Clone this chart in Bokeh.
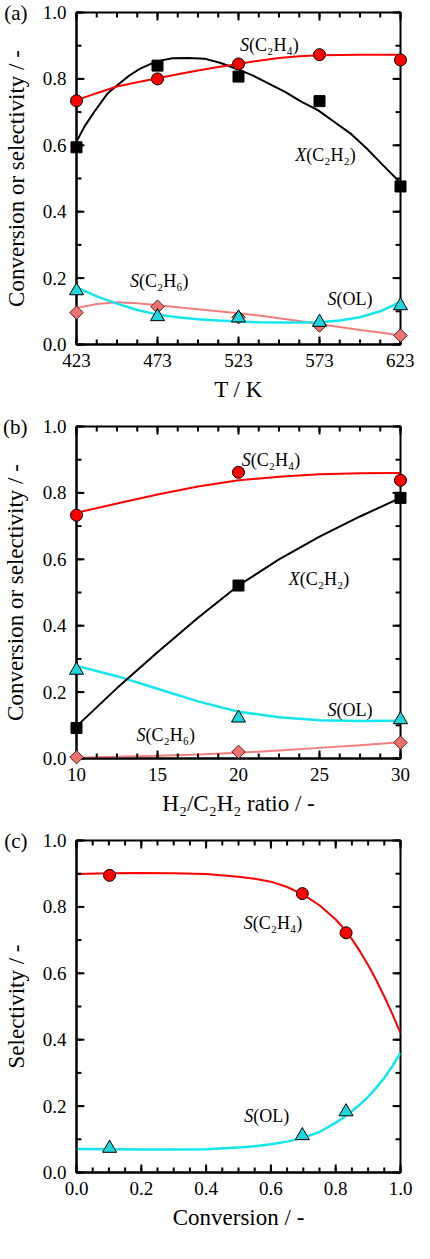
from bokeh.plotting import figure
from bokeh.models import (Range1d, LinearAxis, FixedTicker, Label,
                          CustomJSTickFormatter, PrintfTickFormatter)
from bokeh.layouts import column
from bokeh.embed import file_html
from bokeh.resources import INLINE
import math

# ---------------- data: panel (a) temperature ----------------
temp_K = [423, 473, 523, 573, 623]
a_X_C2H2 = [0.594, 0.840, 0.807, 0.733, 0.476]
a_S_C2H4 = [0.734, 0.800, 0.845, 0.873, 0.857]
a_S_OL = [0.162, 0.084, 0.080, 0.067, 0.117]
a_S_C2H6 = [0.096, 0.114, 0.082, 0.057, 0.027]

a_fitX_T = [423, 428, 434, 442, 448, 455, 462, 472, 482, 492, 502, 512, 522, 532, 542,
            552, 562, 572, 582, 592, 602, 612, 623]
a_fitX = [0.611, 0.657, 0.701, 0.755, 0.780, 0.808, 0.830, 0.852, 0.862, 0.863, 0.861, 0.848,
          0.830, 0.810, 0.785, 0.760, 0.731, 0.706, 0.671, 0.636, 0.591, 0.541, 0.487]
a_fit_T = [423, 435.5, 448, 460.5, 473, 485.5, 498, 510.5, 523, 535.5, 548, 560.5, 573,
           585.5, 598, 610.5, 623]
a_fit_C2H4 = [0.736, 0.757, 0.777, 0.790, 0.802, 0.814, 0.825, 0.836, 0.845, 0.855, 0.863,
              0.868, 0.871, 0.872, 0.873, 0.873, 0.873]
a_fit_OL = [0.172, 0.145, 0.123, 0.104, 0.090, 0.082, 0.076, 0.072, 0.069, 0.067, 0.066,
            0.066, 0.067, 0.072, 0.082, 0.100, 0.128]
a_fit_C2H6 = [0.110, 0.122, 0.127, 0.124, 0.118, 0.112, 0.106, 0.100, 0.094, 0.087, 0.079,
              0.071, 0.062, 0.053, 0.044, 0.036, 0.027]

# ---------------- data: panel (b) H2/C2H2 ratio ----------------
ratio = [10, 20, 30]
b_X_C2H2 = [0.092, 0.521, 0.785]
b_S_C2H4 = [0.733, 0.862, 0.838]
b_S_OL = [0.266, 0.122, 0.117]
b_S_C2H6 = [0.004, 0.020, 0.048]

b_fit_r = [10, 12.5, 15, 17.5, 20, 22.5, 25, 27.5, 30]
b_fit_X = [0.097, 0.212, 0.320, 0.424, 0.521, 0.600, 0.668, 0.729, 0.785]
b_fit_C2H4 = [0.740, 0.768, 0.795, 0.819, 0.838, 0.849, 0.856, 0.859, 0.860]
b_fit_OL = [0.279, 0.248, 0.210, 0.172, 0.141, 0.124, 0.115, 0.113, 0.114]
b_fit_C2H6 = [0.002, 0.005, 0.008, 0.012, 0.017, 0.024, 0.032, 0.040, 0.049]

# ---------------- data: panel (c) conversion ----------------
conv = [0.102, 0.697, 0.832]
c_S_C2H4 = [0.895, 0.840, 0.722]
c_S_OL = [0.073, 0.111, 0.183]

c_fit_x = [0.0, 0.1, 0.2, 0.3, 0.4, 0.5, 0.55, 0.6, 0.65, 0.7, 0.75, 0.8, 0.825, 0.85,
           0.875, 0.9, 0.925, 0.95, 0.975, 1.0]
c_fit_C2H4 = [0.899, 0.901, 0.902, 0.901, 0.899, 0.891, 0.885, 0.876, 0.860, 0.837, 0.805,
              0.762, 0.735, 0.703, 0.666, 0.625, 0.580, 0.530, 0.477, 0.420]
c_fit_OL = [0.071, 0.070, 0.069, 0.069, 0.070, 0.075, 0.079, 0.085, 0.093, 0.105, 0.122,
            0.150, 0.166, 0.185, 0.205, 0.228, 0.255, 0.285, 0.320, 0.360]

# ---------------- tick values ----------------
a_xticks = [423, 473, 523, 573, 623]
a_xminor = [423 + 12.5 * i for i in range(17)]
b_xticks = [10, 15, 20, 25, 30]
b_xminor = [10 + 1.25 * i for i in range(17)]
c_xticks = [0.0, 0.2, 0.4, 0.6, 0.8, 1.0]
c_xminor = [0.05 * i for i in range(21)]
y_ticks = [0.0, 0.2, 0.4, 0.6, 0.8, 1.0]
y_minor = [0.1 * i for i in range(11)]

# ---------------- styles ----------------
FONT = "Liberation Serif"
RED = "#FF0000"
CYAN_LINE = "#14E6EC"
CYAN_FILL = "#1CD6DC"
PINK_LINE = "#F47E7E"
PINK_FILL = "#EE7272"
TICK_FS = "19px"
TITLE_FS = "23px"
ANN_FS = "18px"
FRAME_W, FRAME_H = 328, 332
MAJ_PX, MIN_PX = 8, 5


def style_axis(ax, label_fs=TICK_FS):
    ax.major_tick_in = 0
    ax.major_tick_out = 0
    ax.minor_tick_in = 0
    ax.minor_tick_out = 0
    ax.axis_line_color = "black"
    ax.axis_line_width = 2
    ax.major_label_text_font = FONT
    ax.major_label_text_font_size = label_fs
    ax.major_label_text_color = "black"
    ax.axis_label_text_font = FONT
    ax.axis_label_text_font_size = TITLE_FS
    ax.axis_label_text_font_style = "normal"
    ax.axis_label_text_color = "black"


def inward_ticks(p, xr, yr, xmaj, xmin_, ymaj, ymin_):
    dx = (xr[1] - xr[0]) / FRAME_W
    dy = (yr[1] - yr[0]) / FRAME_H
    for ticks, L in ((xmaj, MAJ_PX), (xmin_, MIN_PX)):
        n = len(ticks)
        p.segment(ticks, [yr[0]] * n, ticks, [yr[0] + L * dy] * n,
                  line_color="black", line_width=2, level="overlay")
        p.segment(ticks, [yr[1]] * n, ticks, [yr[1] - L * dy] * n,
                  line_color="black", line_width=2, level="overlay")
    for ticks, L in ((ymaj, MAJ_PX), (ymin_, MIN_PX)):
        n = len(ticks)
        p.segment([xr[0]] * n, ticks, [xr[0] + L * dx] * n, ticks,
                  line_color="black", line_width=2, level="overlay")
        p.segment([xr[1]] * n, ticks, [xr[1] - L * dx] * n, ticks,
                  line_color="black", line_width=2, level="overlay")


def make_fig(height, xr, xmaj, xmin_, xfmt, xlabel, ylabel, tag, bottom):
    yr = (0, 1)
    p = figure(width=414, height=height, x_range=Range1d(*xr), y_range=Range1d(*yr),
               output_backend="svg", toolbar_location=None,
               min_border_left=72, min_border_right=14, min_border_top=12,
               min_border_bottom=bottom, x_axis_type=None, y_axis_type=None)
    p.grid.visible = False
    p.outline_line_color = "black"
    p.outline_line_width = 2
    xa = LinearAxis(ticker=FixedTicker(ticks=xmaj, minor_ticks=xmin_), formatter=xfmt,
                    axis_label=xlabel)
    style_axis(xa)
    xa.major_label_standoff = 9
    xa.axis_label_standoff = 7
    p.add_layout(xa, "below")
    ya = LinearAxis(ticker=FixedTicker(ticks=y_ticks, minor_ticks=y_minor),
                    formatter=PrintfTickFormatter(format="%.1f"))
    style_axis(ya)
    ya.major_label_standoff = 10
    p.add_layout(ya, "left")
    yb = LinearAxis(ticker=FixedTicker(ticks=[yr[1]], minor_ticks=[]),
                    formatter=CustomJSTickFormatter(code="return '%s';" % tag),
                    axis_label=ylabel)
    style_axis(yb, label_fs="21px")
    yb.axis_line_color = None
    yb.major_label_standoff = 12
    yb.axis_label_standoff = -28
    p.add_layout(yb, "left")
    inward_ticks(p, xr, yr, xmaj, xmin_, y_ticks, y_minor)
    return p


def ann(p, x, y, prefix, rest, pre_w):
    p.add_layout(Label(x=x, y=y, text=prefix, text_font=FONT, text_font_size=ANN_FS,
                       text_font_style="italic", text_baseline="middle", text_align="left",
                       text_color="black"))
    p.add_layout(Label(x=x, y=y, x_offset=pre_w, text=rest, text_font=FONT,
                       text_font_size=ANN_FS, text_baseline="middle", text_align="left",
                       text_color="black"))


def markers(p, x, X=None, SC2H4=None, SOL=None, SC2H6=None):
    if SC2H6 is not None:
        p.scatter(x, SC2H6, marker="square", angle=math.pi / 4, size=9.5,
                  fill_color=PINK_FILL, line_color="#5a2020", line_width=1, level="overlay")
    if SOL is not None:
        p.scatter(x, SOL, marker="triangle", size=14, fill_color=CYAN_FILL,
                  line_color="black", line_width=1, level="overlay")
    if X is not None:
        p.scatter(x, X, marker="square", size=11, fill_color="black", line_color="black",
                  level="overlay")
    if SC2H4 is not None:
        p.scatter(x, SC2H4, marker="circle", size=12, fill_color=RED, line_color="black",
                  line_width=1, level="overlay")


# ---------------- panel (a) ----------------
pa = make_fig(414, (423, 623), a_xticks, a_xminor, PrintfTickFormatter(format="%d"),
              "T / K", "Conversion or selectivity / -", "(a)", 70)
pa.line(a_fit_T, a_fit_C2H6, line_color=PINK_LINE, line_width=2)
pa.line(a_fit_T, a_fit_OL, line_color=CYAN_LINE, line_width=2.5)
pa.line(a_fitX_T, a_fitX, line_color="black", line_width=2)
pa.line(a_fit_T, a_fit_C2H4, line_color=RED, line_width=2)
markers(pa, temp_K, a_X_C2H2, a_S_C2H4, a_S_OL, a_S_C2H6)
ann(pa, 524, 0.902, "S", "(C₂H₄)", 9)
ann(pa, 558, 0.571, "X", "(C₂H₂)", 11)
ann(pa, 456, 0.192, "S", "(C₂H₆)", 9)
ann(pa, 578, 0.137, "S", "(OL)", 9)

# ---------------- panel (b) ----------------
pb = make_fig(414, (10, 30), b_xticks, b_xminor, PrintfTickFormatter(format="%d"),
              "H₂/C₂H₂ ratio / -", "Conversion or selectivity / -", "(b)", 70)
pb.line(b_fit_r, b_fit_C2H6, line_color=PINK_LINE, line_width=2)
pb.line(b_fit_r, b_fit_OL, line_color=CYAN_LINE, line_width=2.5)
pb.line(b_fit_r, b_fit_X, line_color="black", line_width=2)
pb.line(b_fit_r, b_fit_C2H4, line_color=RED, line_width=2)
markers(pb, ratio, b_X_C2H2, b_S_C2H4, b_S_OL, b_S_C2H6)
ann(pb, 20.2, 0.900, "S", "(C₂H₄)", 9)
ann(pb, 23.1, 0.541, "X", "(C₂H₂)", 11)
ann(pb, 13.7, 0.072, "S", "(C₂H₆)", 9)
ann(pb, 25.5, 0.147, "S", "(OL)", 9)

# ---------------- panel (c) ----------------
pc = make_fig(412, (0, 1), c_xticks, c_xminor, PrintfTickFormatter(format="%.1f"),
              "Conversion / -", "Selectivity / -", "(c)", 68)
pc.line(c_fit_x, c_fit_OL, line_color=CYAN_LINE, line_width=2.5)
pc.line(c_fit_x, c_fit_C2H4, line_color=RED, line_width=2)
markers(pc, conv, SC2H4=c_S_C2H4, SOL=c_S_OL)
ann(pc, 0.516, 0.752, "S", "(C₂H₄)", 9)
ann(pc, 0.518, 0.171, "S", "(OL)", 9)

layout = column(pa, pb, pc)
open("out.html", "w").write(file_html(layout, INLINE))
